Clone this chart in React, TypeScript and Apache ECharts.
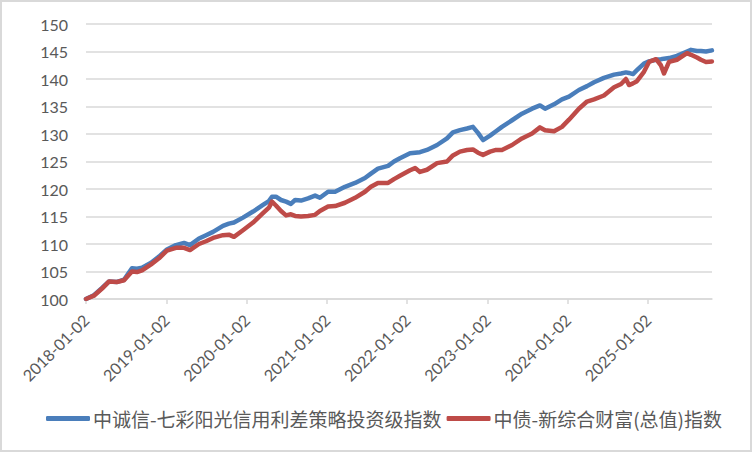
import React, { useEffect, useRef } from "react";
import * as echarts from "echarts";

const seriesNames = ["中诚信-七彩阳光信用利差策略投资级指数", "中债-新综合财富(总值)指数"];
const tickLabels = ["2018-01-02", "2019-01-02", "2020-01-02", "2021-01-02", "2022-01-02", "2023-01-02", "2024-01-02", "2025-01-02"];
const dates = [
  "2018-01-02", "2018-02-07", "2018-03-16", "2018-04-17", "2018-05-23", "2018-06-24", "2018-07-30", "2018-08-22",
  "2018-09-14", "2018-10-25", "2018-11-30", "2019-01-05", "2019-02-15", "2019-03-24", "2019-04-20", "2019-05-31",
  "2019-07-02", "2019-08-03", "2019-09-17", "2019-10-14", "2019-11-06", "2019-12-17", "2020-02-01", "2020-03-17",
  "2020-04-13", "2020-04-27", "2020-05-15", "2020-06-07", "2020-06-30", "2020-07-22", "2020-08-10", "2020-09-06",
  "2020-10-08", "2020-11-09", "2020-12-01", "2021-01-07", "2021-02-08", "2021-03-25", "2021-05-10", "2021-06-24",
  "2021-07-21", "2021-08-22", "2021-10-07", "2021-11-03", "2021-11-30", "2022-01-15", "2022-02-07", "2022-03-01",
  "2022-04-02", "2022-05-18", "2022-07-02", "2022-07-29", "2022-08-30", "2022-10-01", "2022-10-28", "2022-11-20",
  "2022-12-13", "2023-01-14", "2023-02-10", "2023-03-09", "2023-04-24", "2023-06-08", "2023-07-24", "2023-08-29",
  "2023-09-21", "2023-11-01", "2023-12-07", "2024-01-08", "2024-02-22", "2024-03-30", "2024-05-01", "2024-06-15",
  "2024-07-31", "2024-09-01", "2024-09-23", "2024-10-07", "2024-10-25", "2024-11-12", "2024-12-14", "2025-01-06",
  "2025-02-07", "2025-03-01", "2025-03-15", "2025-04-07", "2025-05-13", "2025-06-28", "2025-07-16", "2025-08-12",
  "2025-08-30", "2025-09-22", "2025-10-19",
];
const creditIndex = [
  100.0, 100.7, 102.0, 103.2, 103.1, 103.5, 105.6, 105.5,
  105.7, 106.6, 107.7, 109.0, 109.8, 110.2, 109.8, 111.0,
  111.6, 112.2, 113.3, 113.7, 113.9, 114.8, 115.9, 117.1,
  117.8, 118.6, 118.6, 118.0, 117.7, 117.3, 118.0, 117.9,
  118.3, 118.8, 118.4, 119.5, 119.5, 120.4, 121.1, 122.0,
  122.8, 123.7, 124.2, 125.0, 125.6, 126.5, 126.6, 126.7,
  127.1, 128.0, 129.2, 130.3, 130.7, 131.0, 131.3, 130.2,
  128.9, 129.7, 130.5, 131.3, 132.5, 133.7, 134.6, 135.2,
  134.6, 135.4, 136.3, 136.8, 138.0, 138.7, 139.4, 140.2,
  140.8, 141.0, 141.2, 141.1, 140.9, 141.6, 142.8, 143.2,
  143.5, 143.6, 143.7, 143.8, 144.2, 145.0, 145.3, 145.1,
  145.1, 145.0, 145.2,
];
const bondIndex = [
  100.0, 100.6, 101.9, 103.2, 103.1, 103.4, 105.0, 104.9,
  105.2, 106.3, 107.4, 108.8, 109.3, 109.3, 108.9, 110.0,
  110.5, 111.1, 111.6, 111.7, 111.3, 112.5, 113.9, 115.6,
  116.6, 117.7, 117.0, 116.0, 115.2, 115.4, 115.1, 115.0,
  115.1, 115.3, 116.0, 116.8, 116.9, 117.5, 118.4, 119.5,
  120.4, 121.1, 121.1, 121.8, 122.4, 123.4, 123.8, 123.1,
  123.5, 124.7, 125.0, 126.1, 126.8, 127.1, 127.2, 126.6,
  126.2, 126.8, 127.1, 127.1, 128.0, 129.2, 130.1, 131.2,
  130.7, 130.5, 131.3, 132.6, 134.6, 135.9, 136.3, 137.0,
  138.5, 139.1, 140.0, 138.9, 139.2, 139.6, 141.3, 143.1,
  143.6, 142.5, 141.0, 143.1, 143.5, 144.7, 144.4, 143.9,
  143.5, 143.1, 143.2,
];

const BASE = Date.UTC(2018, 0, 2);
const toYears = (s: string) => {
  const [y, m, d] = s.split("-").map(Number);
  return (Date.UTC(y, m - 1, d) - BASE) / 86400000 / 365.25;
};

export default function App() {
  const ref = useRef<HTMLDivElement>(null);
  useEffect(() => {
    if (!ref.current) return;
    const chart = echarts.init(ref.current, null, { renderer: "svg" });
    const xs = dates.map(toYears);
    const ticks = tickLabels.map((_, i) => i);
    const font = "Lato, 'Noto Sans CJK SC', sans-serif";
    chart.setOption({
      animation: false,
      backgroundColor: "#ffffff",
      graphic: [
        {
          type: "rect",
          shape: { x: 1, y: 1, width: 750, height: 450 },
          style: { fill: "none", stroke: "#d9d9d9", lineWidth: 2 },
          silent: true,
        },
      ],
      grid: { left: 86, right: 40, top: 24, bottom: 153, containLabel: false },
      legend: {
        left: 46,
        top: 409,
        padding: 0,
        itemGap: 5,
        icon: "roundRect",
        itemWidth: 44,
        itemHeight: 5,
        textStyle: { color: "#595959", fontSize: 19, fontFamily: "'Noto Sans CJK SC', sans-serif", padding: [0, 0, 0, -2] },
        data: seriesNames,
      },
      xAxis: {
        type: "value",
        min: 0,
        max: 7.796,
        interval: 1,
        axisLine: { lineStyle: { color: "#d9d9d9", width: 1.5 } },
        axisTick: { show: true, length: 5, customValues: ticks, lineStyle: { color: "#d9d9d9", width: 1.5 } },
        splitLine: { show: false },
        axisLabel: {
          customValues: ticks,
          rotate: 45,
          margin: 18,
          color: "#595959",
          fontSize: 16,
          fontFamily: font,
          formatter: (v: number) => tickLabels[Math.round(v)] ?? "",
        },
      },
      yAxis: {
        type: "value",
        min: 100,
        max: 150,
        interval: 5,
        axisLine: { show: false },
        axisTick: { show: false },
        splitLine: { lineStyle: { color: "#d9d9d9", width: 1.5 } },
        axisLabel: { color: "#595959", fontSize: 16, fontFamily: font, margin: 18 },
      },
      series: [
        {
          name: seriesNames[0],
          type: "line",
          symbol: "none",
          data: xs.map((x, i) => [x, creditIndex[i]]),
          itemStyle: { color: "#4A7EBB" },
          lineStyle: { color: "#4A7EBB", width: 4.5, cap: "round", join: "round" },
        },
        {
          name: seriesNames[1],
          type: "line",
          symbol: "none",
          data: xs.map((x, i) => [x, bondIndex[i]]),
          itemStyle: { color: "#BE4B48" },
          lineStyle: { color: "#BE4B48", width: 4.5, cap: "round", join: "round" },
        },
      ],
    });
    return () => chart.dispose();
  }, []);
  return (
    <div style={{ position: "absolute", left: 0, top: 0, width: 752, height: 452 }}>
      <div ref={ref} style={{ width: 752, height: 452 }} />
    </div>
  );
}
